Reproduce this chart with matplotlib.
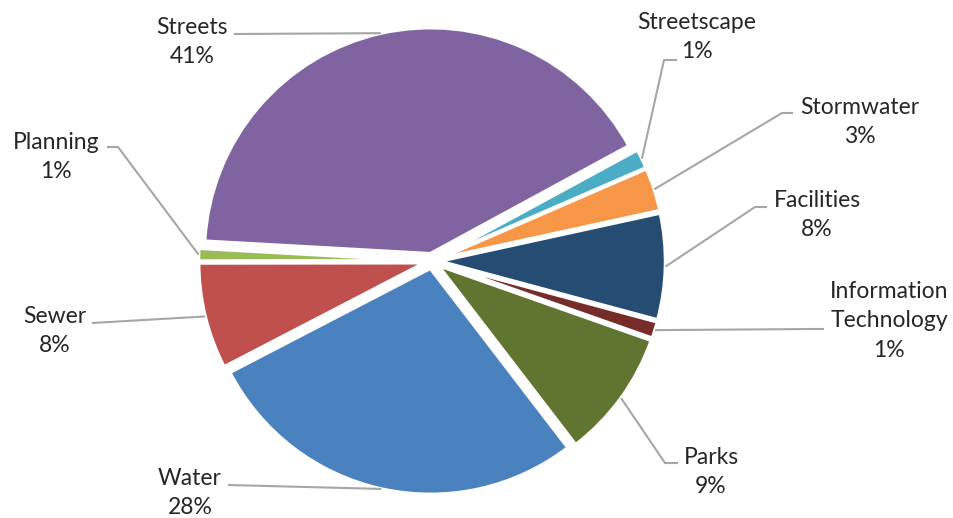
import numpy as np
import matplotlib
matplotlib.use("Agg")
import matplotlib.pyplot as plt

# Slices in clockwise order, starting just right of the top
categories = ["Streetscape", "Stormwater", "Facilities", "Information\nTechnology",
              "Parks", "Water", "Sewer", "Planning", "Streets"]
shares = [1.4, 3.1, 7.6, 1.2, 9.2, 27.8, 7.6, 0.9, 41.2]
colors = ["#4BACC6", "#F79646", "#254D74", "#772C2A", "#5F7530",
          "#4A81BF", "#C0504D", "#9BBB59", "#8064A2"]

# Layout (pixels in the 954x518 canvas)
W, H = 954, 518
CX, CY, R = 432.0, 261.0, 226.0
EXPLODE = 7.5 / R
START = 28.5

# label block centres and leader paths from the label side
label_pos = {
    "Streetscape": (697, 37), "Stormwater": (860, 122), "Facilities": (817, 215),
    "Information\nTechnology": (889, 321), "Parks": (711, 472), "Water": (190, 493),
    "Sewer": (55, 331), "Planning": (56, 157), "Streets": (192, 42),
}
leaders = {
    "Streetscape": [(677, 60), (664, 60)], "Stormwater": [(793, 113), (782, 113)],
    "Facilities": [(767, 207), (755, 207)], "Information\nTechnology": [(824, 329), (812, 329)],
    "Parks": [(678, 463), (665, 463)], "Water": [(228, 485)],
    "Sewer": [(92, 323)], "Planning": [(107, 147), (118, 147)], "Streets": [(234, 34)],
}


def to_data(x, y):
    return (x - CX) / R, (CY - y) / R


fig = plt.figure(figsize=(W / 100, H / 100), dpi=100)
ax = fig.add_axes([0, 0, 1, 1])

wedges, _ = ax.pie(shares, colors=colors, startangle=START, counterclock=False,
                   explode=[EXPLODE] * len(shares), radius=1.0, center=(0, 0),
                   wedgeprops=dict(edgecolor="white", linewidth=2.5))

ax.set_xlim(-CX / R, (W - CX) / R)
ax.set_ylim(-(H - CY) / R, CY / R)
ax.set_aspect("auto")
ax.axis("off")

total = sum(shares)
for w, name, val in zip(wedges, categories, shares):
    mid = np.deg2rad((w.theta1 + w.theta2) / 2)
    ox, oy = w.center
    ax_pt = (ox + w.r * np.cos(mid), oy + w.r * np.sin(mid))
    pts = [to_data(*p) for p in leaders[name]] + [ax_pt]
    xs, ys = zip(*pts)
    ax.plot(xs, ys, color="#A6A6A6", linewidth=1.5, solid_capstyle="butt", zorder=1)

    lx, ly = to_data(*label_pos[name])
    ax.text(lx, ly, f"{name}\n{round(val / total * 100):d}%", ha="center", va="center",
            fontsize=16.5, family=["Lato", "DejaVu Sans"], color="#262626", linespacing=1.52)

fig.savefig("out.png", dpi=100)
